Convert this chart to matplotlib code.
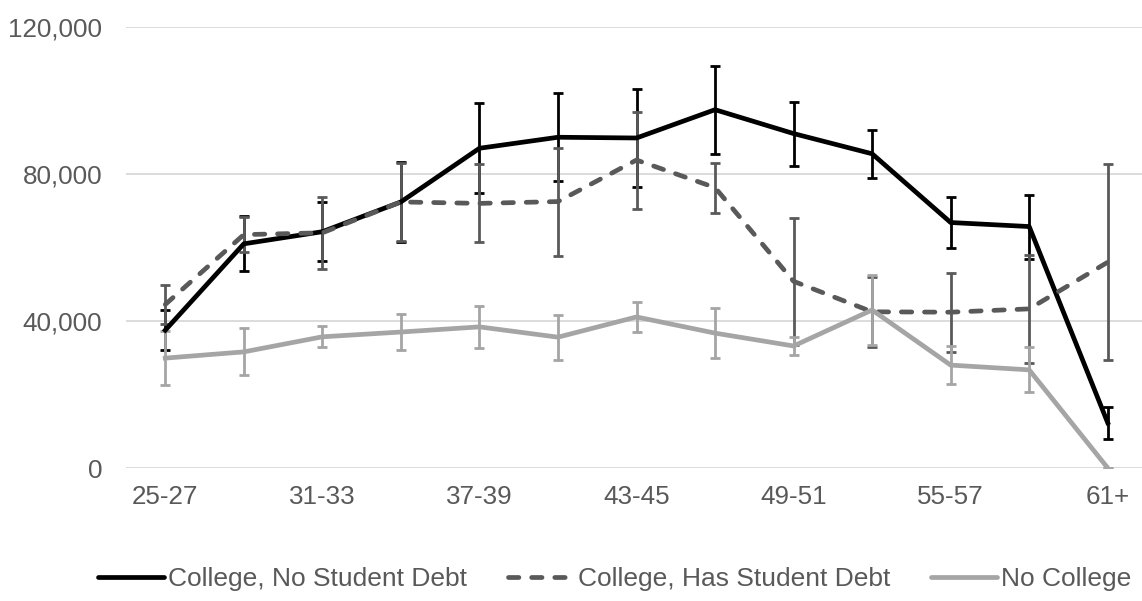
import matplotlib

matplotlib.use("Agg")

import matplotlib.pyplot as plt  # noqa: E402
from matplotlib.lines import Line2D  # noqa: E402
from matplotlib.ticker import FuncFormatter  # noqa: E402

plt.rcParams["font.family"] = ["Liberation Sans", "DejaVu Sans"]

# age groups and mean values
ages = ["25-27", "28-30", "31-33", "34-36", "37-39", "40-42", "43-45",
        "46-48", "49-51", "52-54", "55-57", "58-60", "61+"]

no_debt = [37500, 61000, 64300, 72400, 87000, 90000, 89800,
           97500, 91000, 85500, 66800, 65700, 12300]
no_debt_err = [5400, 7500, 8000, 10900, 12300, 12000, 13400,
               12000, 8700, 6500, 6900, 8700, 4300]

has_debt = [44500, 63500, 64000, 72400, 72000, 72500, 83800,
            76300, 50800, 42500, 42400, 43300, 56000]
has_debt_err = [5200, 4800, 9800, 10500, 10600, 14700, 13200,
                6800, 17200, 9500, 10700, 14700, 26700]

no_college = [29900, 31600, 35700, 37000, 38400, 35600, 41100,
              36700, 33200, 43000, 28000, 26700, 0]
no_college_err = [7300, 6400, 2900, 4900, 5800, 6100, 4200,
                  6900, 2500, 9400, 5100, 6100, 0]

series = [
    ("College, No Student Debt", no_debt, no_debt_err, "#000000", "-"),
    ("College, Has Student Debt", has_debt, has_debt_err, "#595959", "--"),
    ("No College", no_college, no_college_err, "#a5a5a5", "-"),
]

DASH = (2.2, 2.7)
LW = 3.4

fig = plt.figure(figsize=(11.42, 6.01), dpi=100)
ax = fig.add_axes([126 / 1142, 133 / 601, 1021 / 1142, 441 / 601])

x = list(range(len(ages)))
handles = []
for label, vals, errs, color, ls in series:
    eb = ax.errorbar(x, vals, yerr=errs, color=color, ecolor=color,
                     linewidth=LW, elinewidth=2.0, capsize=3.8,
                     capthick=2.0)
    line = eb.lines[0]
    h = Line2D([], [], color=color, linewidth=LW, solid_capstyle="round")
    if ls == "--":
        line.set_dashes(DASH)
        line.set_dash_capstyle("round")
        h.set_dashes(DASH)
        h.set_dash_capstyle("round")
    handles.append((h, label))

ax.set_ylim(0, 120000)
ax.set_xlim(-0.5, 12.5)
ax.set_yticks([0, 40000, 80000, 120000])
ax.yaxis.set_major_formatter(FuncFormatter(lambda v, p: f"{int(v):,}"))
ax.set_xticks(x[::2])
ax.set_xticklabels(ages[::2])
ax.tick_params(length=0, labelsize=18.7, colors="#595959")
ax.tick_params(axis="x", pad=12)
ax.tick_params(axis="y", pad=17)
ax.grid(axis="y", color="#d9d9d9", linewidth=1.3)
ax.set_axisbelow(True)
for s in ax.spines.values():
    s.set_visible(False)

fig.legend([h for h, _ in handles], [lab for _, lab in handles],
           loc="center", ncol=3,
           bbox_to_anchor=(615 / 1142, 1 - 579 / 601), frameon=False,
           fontsize=19, labelcolor="#595959", handlelength=2.5,
           handletextpad=0.15, columnspacing=1.55)

fig.savefig("out.png", dpi=100)
plt.close(fig)
